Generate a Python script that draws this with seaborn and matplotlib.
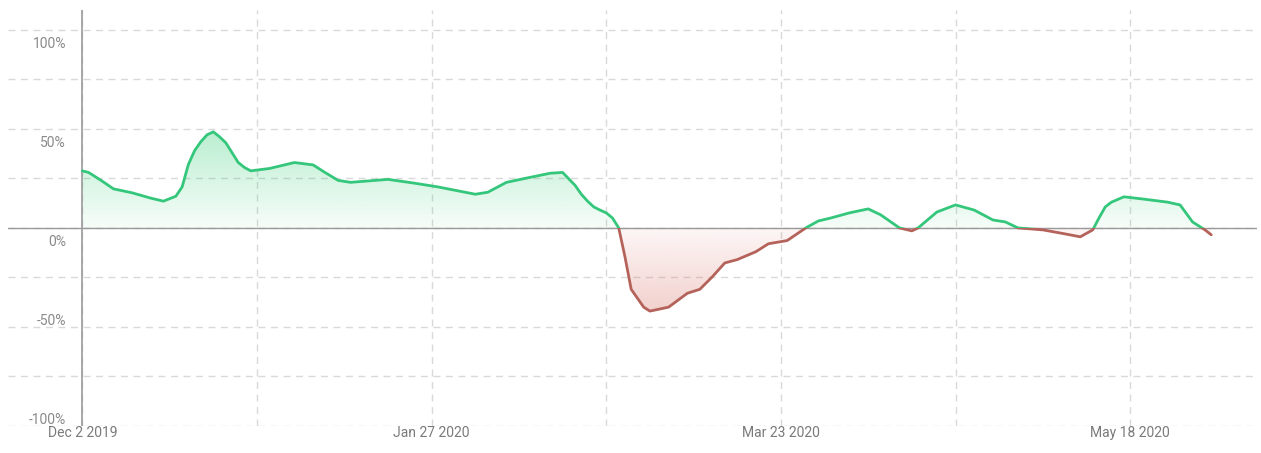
import numpy as np
import pandas as pd
import matplotlib
matplotlib.use("Agg")
import matplotlib.pyplot as plt
import matplotlib.dates as mdates
from matplotlib.colors import to_rgb
from matplotlib.patches import Rectangle
import seaborn as sns

# values (% change)
dates = ["2019-12-02", "2019-12-03", "2019-12-05", "2019-12-07", "2019-12-10", "2019-12-13",
         "2019-12-15", "2019-12-17", "2019-12-18", "2019-12-19", "2019-12-20", "2019-12-21",
         "2019-12-22", "2019-12-23", "2019-12-24", "2019-12-25", "2019-12-26", "2019-12-27",
         "2019-12-28", "2019-12-29", "2020-01-01", "2020-01-05", "2020-01-08", "2020-01-10",
         "2020-01-12", "2020-01-14", "2020-01-16", "2020-01-20", "2020-01-24", "2020-01-28",
         "2020-02-03", "2020-02-05", "2020-02-08", "2020-02-11", "2020-02-15", "2020-02-17",
         "2020-02-19", "2020-02-20", "2020-02-21", "2020-02-22", "2020-02-23", "2020-02-24",
         "2020-02-25", "2020-02-26", "2020-02-27", "2020-02-28", "2020-03-01", "2020-03-02",
         "2020-03-05", "2020-03-08", "2020-03-10", "2020-03-12", "2020-03-14", "2020-03-16",
         "2020-03-19", "2020-03-21", "2020-03-24", "2020-03-27", "2020-03-29", "2020-03-31",
         "2020-04-03", "2020-04-06", "2020-04-08", "2020-04-11", "2020-04-13", "2020-04-14",
         "2020-04-17", "2020-04-20", "2020-04-23", "2020-04-26", "2020-04-28", "2020-04-30",
         "2020-05-04", "2020-05-07", "2020-05-10", "2020-05-12", "2020-05-13", "2020-05-14",
         "2020-05-15", "2020-05-17", "2020-05-20", "2020-05-24", "2020-05-26", "2020-05-28",
         "2020-05-30", "2020-05-31"]
change = [28.8, 28.0, 24.0, 19.7, 17.7, 15.0,
          13.5, 16.0, 20.7, 32.0, 39.0, 43.5,
          47.0, 48.5, 46.0, 43.0, 38.0, 33.0,
          30.5, 28.8, 30.0, 33.0, 31.8, 27.8,
          24.0, 23.0, 23.5, 24.5, 22.7, 20.7,
          17.0, 18.0, 23.0, 25.0, 27.6, 28.0,
          21.5, 17.0, 13.5, 10.6, 9.0, 7.6,
          5.0, 0.0, -14.6, -31.0, -40.0, -42.0,
          -40.0, -33.0, -31.0, -24.7, -17.7, -16.0,
          -12.0, -8.0, -6.4, 0.0, 3.5, 5.0,
          7.6, 9.6, 6.6, 0.0, -1.5, 0.0,
          8.0, 11.6, 9.0, 4.0, 3.0, 0.0,
          -1.0, -2.7, -4.5, -1.0, 5.0, 10.6,
          13.0, 15.7, 14.6, 13.0, 11.6, 3.0,
          -1.0, -3.5]

y_ticks = [-100, -75, -50, -25, 0, 25, 50, 75, 100]
y_labels = {100: "100%", 50: "50%", 0: "0%", -50: "-50%", -100: "-100%"}
x_ticks = ["2019-12-02", "2019-12-30", "2020-01-27", "2020-02-24",
           "2020-03-23", "2020-04-20", "2020-05-18"]
x_labels = ["Dec 2 2019", "", "Jan 27 2020", "", "Mar 23 2020", "", "May 18 2020"]

green = "#34c77b"
red = "#b4625a"

df = pd.DataFrame({"date": pd.to_datetime(dates), "change": change})

sns.set_theme(style="white")
plt.rcParams["font.family"] = ["Roboto", "DejaVu Sans"]

fig = plt.figure(figsize=(12.61, 4.53), dpi=100)
ax = fig.add_axes([8 / 1261, 27 / 453, 1249 / 1261, 416 / 453])

xmin = pd.Timestamp("2019-11-20 02:00")
xmax = pd.Timestamp("2020-06-07 08:00")
x0, x1 = mdates.date2num(xmin), mdates.date2num(xmax)

# gradient fills under / over the curve
poly = ax.fill_between(df["date"], df["change"], 0, facecolor="none", edgecolor="none")
clip = poly.get_paths()[0]
ramp = np.linspace(0, 1, 256).reshape(-1, 1)

g_img = np.zeros((256, 1, 4))
g_img[..., :3] = to_rgb("#2ecc71")
g_img[..., 3] = 0.04 + 0.30 * ramp
im_g = ax.imshow(g_img, extent=[x0, x1, 0, 50], origin="lower", aspect="auto", zorder=1)
im_g.set_clip_path(clip, transform=ax.transData)

r_img = np.zeros((256, 1, 4))
r_img[..., :3] = to_rgb("#d9786e")
r_img[..., 3] = 0.36 - 0.30 * ramp
im_r = ax.imshow(r_img, extent=[x0, x1, -45, 0], origin="lower", aspect="auto", zorder=1)
im_r.set_clip_path(clip, transform=ax.transData)

# line, green above zero, red below
sns.lineplot(data=df, x="date", y="change", color=green, linewidth=2.0, ax=ax, zorder=4)
ax.lines[-1].set_clip_path(Rectangle((x0, 0), x1 - x0, 200, transform=ax.transData))
ax.lines[-1].set_solid_joinstyle("round")
sns.lineplot(data=df, x="date", y="change", color=red, linewidth=2.0, ax=ax, zorder=4)
ax.lines[-1].set_clip_path(Rectangle((x0, -200), x1 - x0, 200, transform=ax.transData))
ax.lines[-1].set_solid_joinstyle("round")

ax.set_xlim(xmin, xmax)
ax.set_ylim(-100, 110)

# grid
ax.set_yticks(y_ticks)
ax.set_yticklabels([])
ax.set_xticks(pd.to_datetime(x_ticks))
ax.set_xticklabels(x_labels)
ax.grid(True, color="#d9d9d9", linewidth=1.0, linestyle=(0, (5, 4)))
ax.tick_params(axis="both", length=0)
ax.tick_params(axis="x", pad=0, labelsize=10, labelcolor="#7a7a7a")
ax.axhline(0, color="#9a9a9a", linewidth=1.0, zorder=3)
ax.axvline(pd.Timestamp("2019-12-02"), color="#9a9a9a", linewidth=1.2, zorder=3)

for v, lab in y_labels.items():
    if v >= 0:
        ax.text(0.0465, v - 3.5, lab, transform=ax.get_yaxis_transform(),
                ha="right", va="top", fontsize=10, color="#8a8a8a")
    else:
        ax.text(0.0465, v - 0.5, lab, transform=ax.get_yaxis_transform(),
                ha="right", va="bottom", fontsize=10, color="#8a8a8a")

ax.set_xlabel("")
ax.set_ylabel("")
for s in ax.spines.values():
    s.set_visible(False)

fig.savefig("out.png", dpi=100)
